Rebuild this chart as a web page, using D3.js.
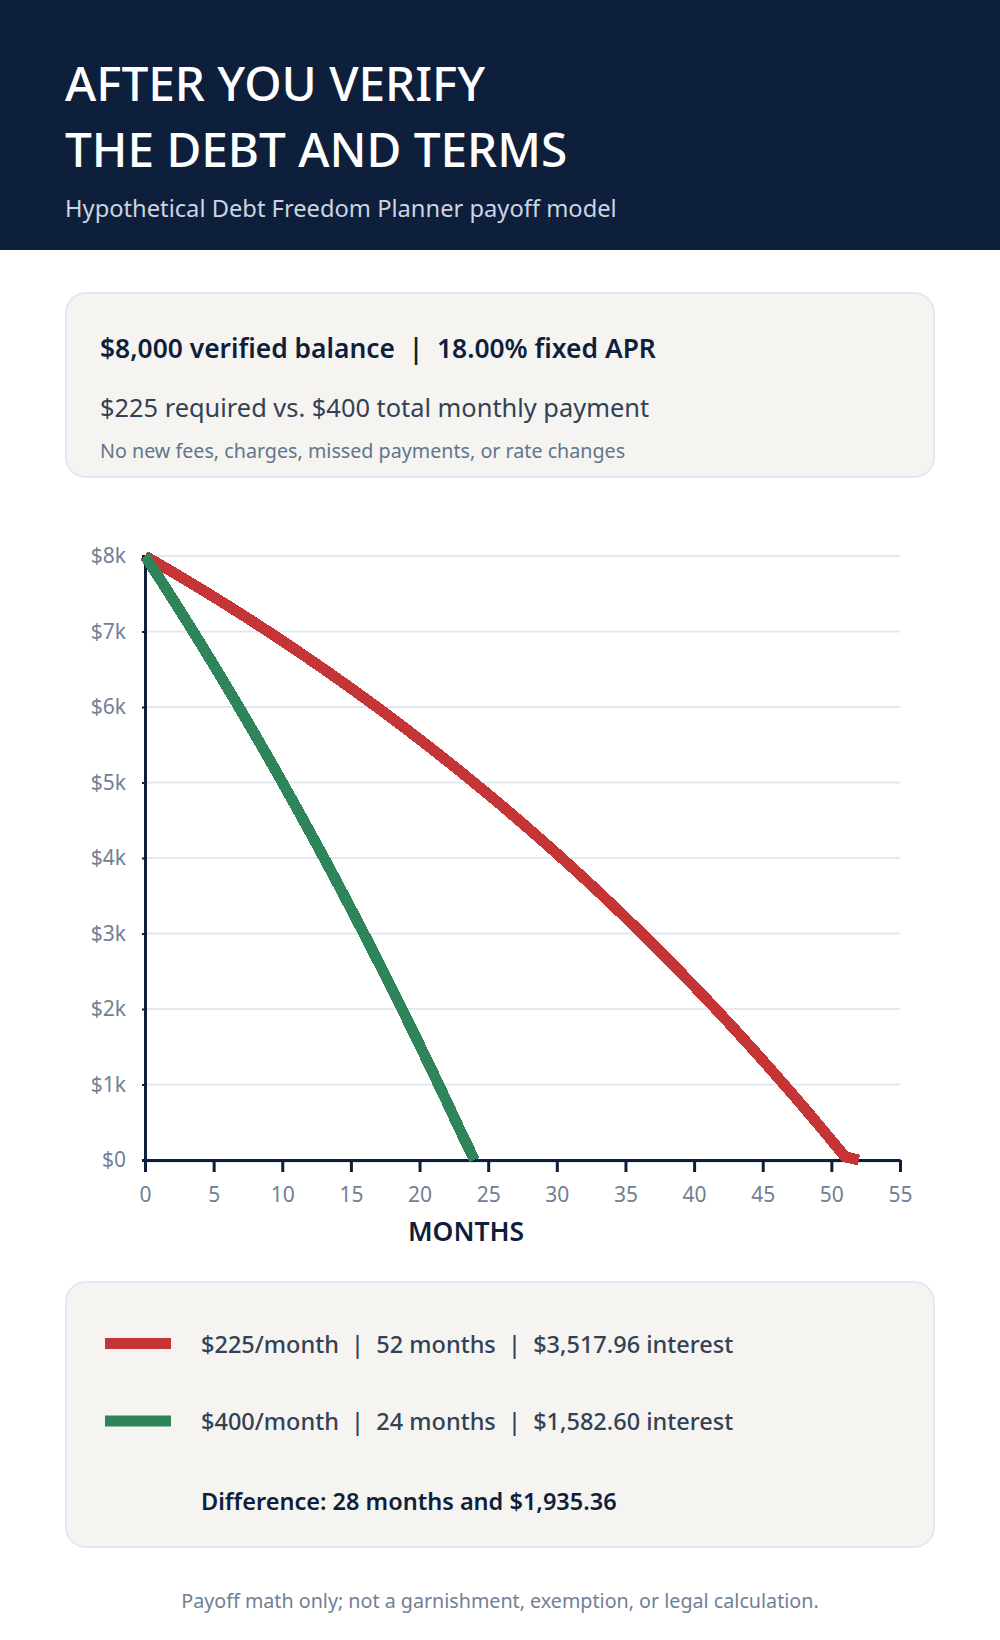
<!DOCTYPE html>
<html>
<head>
<meta charset="utf-8">
<script src="https://cdn.jsdelivr.net/npm/d3@7"></script>
<style>
  html, body { margin: 0; padding: 0; background: #ffffff; }
  svg { display: block; font-family: "Noto Sans", "Open Sans", sans-serif; }
</style>
</head>
<body>
<svg id="chart" width="1000" height="1640"></svg>
<script>
// ---- data ----
const titleLines = ["AFTER YOU VERIFY", "THE DEBT AND TERMS"];
const subtitle = "Hypothetical Debt Freedom Planner payoff model";
const infoLines = [
  "$8,000 verified balance  |  18.00% fixed APR",
  "$225 required vs. $400 total monthly payment",
  "No new fees, charges, missed payments, or rate changes"
];
const months225 = d3.range(0, 53);
const balance225 = [8000, 7895, 7788.43, 7680.25, 7570.45, 7459.01, 7345.90, 7231.09, 7114.56, 6996.28,
  6876.22, 6754.36, 6630.68, 6505.14, 6377.72, 6248.39, 6117.12, 5983.88, 5848.64, 5711.37,
  5572.04, 5430.62, 5287.08, 5141.39, 4993.51, 4843.41, 4691.06, 4536.43, 4379.48, 4220.17,
  4058.47, 3894.35, 3727.77, 3558.69, 3387.07, 3212.88, 3036.07, 2856.61, 2674.46, 2489.58,
  2301.92, 2111.45, 1918.12, 1721.89, 1522.72, 1320.56, 1115.37, 907.10, 695.71, 481.15,
  263.37, 42.32, 0];
const months400 = d3.range(0, 25);
const balance400 = [8000, 7720, 7435.80, 7147.34, 6854.55, 6557.37, 6255.73, 5949.57, 5638.81, 5323.39,
  5003.24, 4678.29, 4348.46, 4013.69, 3673.90, 3329.01, 2978.95, 2623.63, 2262.98, 1896.92,
  1525.37, 1148.25, 765.47, 376.95, 0];
const yTicks = [0, 1000, 2000, 3000, 4000, 5000, 6000, 7000, 8000];
const xTicks = [0, 5, 10, 15, 20, 25, 30, 35, 40, 45, 50, 55];
const xLabel = "MONTHS";
const legendLabels = [
  "$225/month  |  52 months  |  $3,517.96 interest",
  "$400/month  |  24 months  |  $1,582.60 interest"
];
const differenceText = "Difference: 28 months and $1,935.36";
const footnote = "Payoff math only; not a garnishment, exemption, or legal calculation.";

// ---- styles ----
const C = {
  navy: "#0e1f3b", subtitle: "#cbd5e1", card: "#f5f4f1", cardStroke: "#e2e8f0",
  dark: "#0f1f3b", body: "#334155", muted: "#64748b", tick: "#718096",
  grid: "#e2e8f0", red: "#c53535", green: "#2e855a"
};

const svg = d3.select("#chart");

// header
svg.append("rect").attr("x", 0).attr("y", 0).attr("width", 1000).attr("height", 250).attr("fill", C.navy);
svg.selectAll("text.title").data(titleLines).join("text")
  .attr("class", "title").attr("x", 65).attr("y", (d, i) => 101 + i * 65.7)
  .attr("fill", "#ffffff").attr("font-size", 47.7).attr("font-weight", 500).text(d => d);
svg.append("text").attr("x", 65).attr("y", 216.5).attr("fill", C.subtitle)
  .attr("font-size", 23.7).text(subtitle);

// info card
svg.append("rect").attr("x", 66).attr("y", 293).attr("width", 868).attr("height", 184).attr("rx", 20)
  .attr("fill", C.card).attr("stroke", C.cardStroke).attr("stroke-width", 2);
svg.append("text").attr("x", 100).attr("y", 358).attr("fill", C.dark).attr("font-size", 26.4)
  .attr("font-weight", 600).attr("xml:space", "preserve").text(infoLines[0]);
svg.append("text").attr("x", 100).attr("y", 416.5).attr("fill", C.body).attr("font-size", 25.4)
  .text(infoLines[1]);
svg.append("text").attr("x", 100).attr("y", 457.5).attr("fill", C.muted).attr("font-size", 19.7)
  .text(infoLines[2]);

// chart
const x = d3.scaleLinear().domain([0, 55]).range([145, 900]);
const y = d3.scaleLinear().domain([0, 8000]).range([1160, 556]);

// grid
svg.append("g").selectAll("line").data(yTicks).join("line")
  .attr("x1", x(0)).attr("x2", x(55)).attr("y1", d => y(d) + (d === 0 ? 2 : 0)).attr("y2", d => y(d) + (d === 0 ? 2 : 0))
  .attr("stroke", C.grid).attr("stroke-width", 2);

// y axis
const yAxis = svg.append("g").attr("transform", `translate(${x(0)},0)`)
  .call(d3.axisLeft(y).tickValues(yTicks).tickSize(3).tickPadding(16)
    .tickFormat(d => d === 0 ? "$0" : "$" + (d / 1000) + "k"));
yAxis.select(".domain").attr("stroke", C.dark).attr("stroke-width", 3);
yAxis.selectAll(".tick line").attr("stroke", C.dark).attr("stroke-width", 2);
yAxis.selectAll(".tick text").attr("fill", C.tick).attr("font-size", 21)
  .attr("font-family", "'Noto Sans', sans-serif");

// x axis
const xAxis = svg.append("g").attr("transform", `translate(0,${y(0)})`)
  .call(d3.axisBottom(x).tickValues(xTicks).tickSize(12).tickPadding(15).tickSizeOuter(0));
xAxis.select(".domain").attr("stroke", C.dark).attr("stroke-width", 3);
xAxis.selectAll(".tick line").attr("stroke", C.dark).attr("stroke-width", 3);
xAxis.selectAll(".tick text").attr("fill", C.tick).attr("font-size", 21)
  .attr("font-family", "'Noto Sans', sans-serif");

svg.append("text").attr("x", 466).attr("y", 1240.5).attr("text-anchor", "middle")
  .attr("fill", C.dark).attr("font-size", 26.5).attr("font-weight", 600).text(xLabel);

// lines
const line = d3.line().x(d => x(d[0])).y(d => y(d[1]));
const series = [
  { m: months225, b: balance225, color: C.red },
  { m: months400, b: balance400, color: C.green }
];
svg.append("g").selectAll("path").data(series).join("path")
  .attr("d", s => line(s.m.map((m, i) => [m, s.b[i]])))
  .attr("fill", "none").attr("stroke", s => s.color).attr("stroke-width", 11)
  .attr("stroke-linejoin", "miter").attr("shape-rendering", "crispEdges");

// legend card
svg.append("rect").attr("x", 66).attr("y", 1282).attr("width", 868).attr("height", 265).attr("rx", 20)
  .attr("fill", C.card).attr("stroke", C.cardStroke).attr("stroke-width", 2);
const legendY = [1343.5, 1421];
svg.append("g").selectAll("rect").data(series).join("rect")
  .attr("x", 105).attr("y", (d, i) => legendY[i] - 5.5).attr("width", 66).attr("height", 11)
  .attr("fill", d => d.color);
svg.append("g").selectAll("text").data(legendLabels).join("text")
  .attr("x", 201).attr("y", (d, i) => legendY[i] + 9).attr("fill", C.body).attr("font-size", 23.5)
  .attr("font-weight", 500).attr("xml:space", "preserve").text(d => d);
svg.append("text").attr("x", 201).attr("y", 1510).attr("fill", C.dark).attr("font-size", 23.5)
  .attr("font-weight", 600).text(differenceText);

// footnote
svg.append("text").attr("x", 500).attr("y", 1608).attr("text-anchor", "middle")
  .attr("fill", C.tick).attr("font-size", 19.7).text(footnote);
</script>
</body>
</html>
